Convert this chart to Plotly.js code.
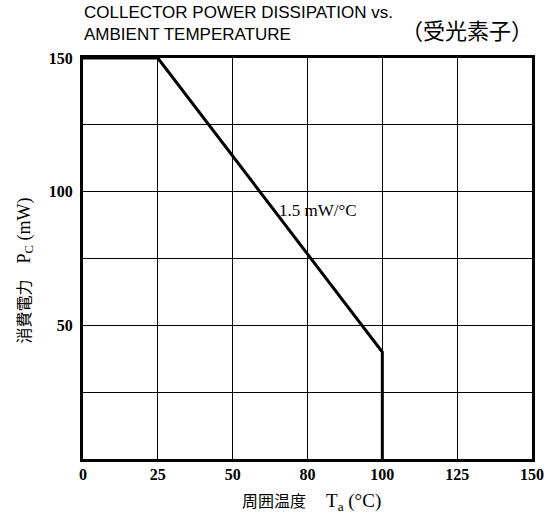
<!DOCTYPE html>
<html>
<head>
<meta charset="utf-8">
<script src="https://cdn.plot.ly/plotly-3.0.1.min.js"></script>
<style>html,body{margin:0;padding:0;background:#fff;}#chart{width:556px;height:517px;}</style>
</head>
<body>
<div id="chart"></div>
<script>
// Data
const temperature = [0, 25, 100, 100];       // Ta (°C)
const powerDissipation = [150, 150, 40, 0];  // Pc (mW)

const xTickVals = [0, 25, 50, 75, 100, 125, 150];
const xTickText = ['0', '25', '50', '80', '100', '125', '150'];
const yTickVals = [50, 100, 150];
const yTickText = ['50', '100', '150'];

const titleText = 'COLLECTOR POWER DISSIPATION vs.<br>AMBIENT TEMPERATURE';
const subtitleText = '（受光素子）';
const slopeLabel = '1.5 mW/°C';
const xTitle = '周囲温度　 <span style="font-size:19px">T<sub>a</sub> (°C)</span>';
const yTitle = '消費電力　<span style="font-size:18px">P<sub>C</sub> (mW)</span>';

const serif = '"Liberation Serif", "Noto Sans CJK JP", serif';
const sans = '"Liberation Sans", Arial, sans-serif';

const trace = {
  x: temperature,
  y: powerDissipation,
  type: 'scatter',
  mode: 'lines',
  line: {color: '#000', width: 3},
  hoverinfo: 'skip'
};

const gridStyle = {gridcolor: '#000', gridwidth: 1.2};

const layout = {
  width: 556,
  height: 517,
  margin: {l: 83, r: 24, t: 58, b: 58},
  paper_bgcolor: '#fff',
  plot_bgcolor: '#fff',
  showlegend: false,
  xaxis: {
    range: [0, 150],
    tickvals: xTickVals,
    ticktext: xTickText,
    ticks: '',
    showgrid: true,
    gridcolor: gridStyle.gridcolor,
    gridwidth: gridStyle.gridwidth,
    zeroline: false,
    showline: true,
    linecolor: '#000',
    linewidth: 3,
    mirror: true,
    tickfont: {family: serif, size: 16, color: '#000', weight: 'bold'},
    ticklabelstandoff: -1
  },
  yaxis: {
    range: [0, 150],
    tickvals: yTickVals,
    ticktext: yTickText,
    ticks: '',
    showgrid: true,
    gridcolor: gridStyle.gridcolor,
    gridwidth: gridStyle.gridwidth,
    minor: {dtick: 25, tick0: 0, showgrid: true, gridcolor: gridStyle.gridcolor, gridwidth: gridStyle.gridwidth, ticks: ''},
    zeroline: false,
    showline: true,
    linecolor: '#000',
    linewidth: 3,
    mirror: true,
    tickfont: {family: serif, size: 16, color: '#000', weight: 'bold'},
    ticklabelstandoff: 4
  },
  annotations: [
    {
      text: titleText,
      xref: 'paper', yref: 'paper',
      x: 0, xanchor: 'left', xshift: -1,
      y: 1, yanchor: 'bottom', yshift: 12,
      align: 'left',
      showarrow: false,
      font: {family: sans, size: 17, color: '#000'}
    },
    {
      text: subtitleText,
      xref: 'paper', yref: 'paper',
      x: 1, xanchor: 'right', xshift: 3,
      y: 1, yanchor: 'bottom', yshift: 11,
      showarrow: false,
      font: {family: '"Noto Sans CJK JP", sans-serif', size: 22, color: '#000'}
    },
    {
      text: slopeLabel,
      xref: 'x', yref: 'y',
      x: 78.5, y: 93,
      showarrow: false,
      font: {family: serif, size: 17, color: '#000'}
    },
    {
      text: xTitle,
      xref: 'paper', yref: 'paper',
      x: 0.5, xanchor: 'center', xshift: 4,
      y: 0, yanchor: 'middle', yshift: -43,
      showarrow: false,
      font: {family: serif, size: 16, color: '#000'}
    },
    {
      text: yTitle,
      xref: 'paper', yref: 'paper',
      x: 0, xanchor: 'center', xshift: -58,
      y: 0.5, yanchor: 'middle', yshift: -12,
      textangle: -90,
      showarrow: false,
      font: {family: serif, size: 16, color: '#000'}
    }
  ]
};

Plotly.newPlot('chart', [trace], layout, {displayModeBar: false, staticPlot: true});
</script>
</body>
</html>
